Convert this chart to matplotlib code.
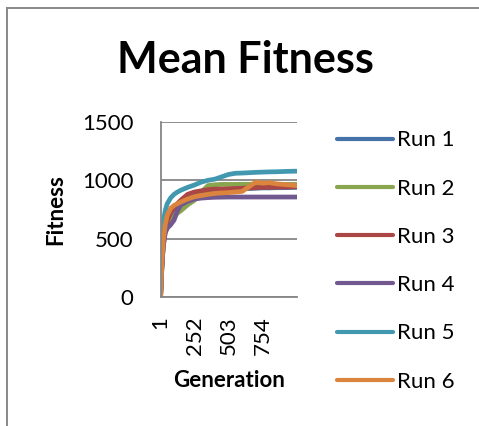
import matplotlib
matplotlib.use("Agg")
import matplotlib.pyplot as plt
from matplotlib.lines import Line2D

# ---------------- data ----------------
generations = [1, 10, 20, 35, 50, 75, 100, 125, 150, 200, 250, 300, 350, 400,
               450, 500, 550, 600, 650, 700, 750, 800, 850, 900, 950, 1000]
run1 = [0, 245, 440, 570, 640, 710, 760, 795, 825, 875, 895, 905, 915, 920,
        920, 922, 925, 927, 930, 932, 935, 935, 937, 937, 938, 940]
run2 = [0, 250, 430, 560, 620, 660, 690, 720, 740, 790, 830, 900, 955, 962,
        965, 965, 965, 966, 966, 966, 966, 966, 965, 965, 965, 965]
run3 = [0, 250, 450, 580, 650, 720, 770, 800, 830, 880, 900, 910, 920, 925,
        925, 928, 930, 932, 935, 937, 940, 940, 942, 942, 943, 945]
run4 = [0, 250, 430, 550, 590, 620, 660, 740, 790, 820, 840, 848, 852, 855,
        856, 857, 857, 857, 857, 857, 857, 857, 857, 857, 857, 857]
run5 = [0, 450, 640, 740, 800, 850, 880, 900, 915, 940, 960, 985, 1000, 1010,
        1030, 1050, 1060, 1062, 1065, 1068, 1070, 1072, 1073, 1075, 1077, 1078]
run6 = [0, 280, 470, 620, 700, 760, 785, 800, 815, 840, 860, 870, 880, 888,
        892, 895, 900, 905, 945, 985, 975, 980, 970, 965, 960, 955]
series = [("Run 1", run1), ("Run 2", run2), ("Run 3", run3),
          ("Run 4", run4), ("Run 5", run5), ("Run 6", run6)]
colors = ["#4572A7", "#89A54E", "#AA4643", "#71588F", "#4198AF", "#DB843D"]
xticks = [1, 252, 503, 754]
yticks = [0, 500, 1000, 1500]

W, H = 479, 426
plt.rcParams['font.family'] = ['Lato', 'DejaVu Sans']
fig = plt.figure(figsize=(W / 100, H / 100), dpi=100)

def fx(px):
    return px / W

def fy(py):
    return 1 - py / H

ax = fig.add_axes([fx(160.5), fy(297.3), fx(296.7) - fx(160.5), fy(121.8) - fy(297.3)])

for (name, vals), c in zip(series, colors):
    ax.plot(generations, vals, color=c, lw=3.4, label=name,
            solid_capstyle='round', solid_joinstyle='round')

ax.set_xlim(0.5, 1000.5)
ax.set_ylim(0, 1500)
ax.set_yticks(yticks)
ax.set_xticks(xticks)
ax.set_xticklabels([str(t) for t in xticks], rotation=90)
ax.tick_params(axis='both', length=0, labelsize=16, colors='black')
ax.tick_params(axis='y', pad=19.5)
ax.tick_params(axis='x', pad=13.5)
ax.grid(axis='y', color='#868686', lw=1.3)
ax.set_axisbelow(True)
for s in ['top', 'right']:
    ax.spines[s].set_visible(False)
for s in ['left', 'bottom']:
    ax.spines[s].set_color('#868686')
    ax.spines[s].set_linewidth(1.3)

fig.text(fx(245), fy(73), "Mean Fitness", ha='center', va='baseline',
         fontsize=31, fontweight='bold')
fig.text(fx(56), fy(210), "Fitness", ha='center', va='center', rotation=90,
         fontsize=16, fontweight='bold')
fig.text(fx(229), fy(387), "Generation", ha='center', va='baseline',
         fontsize=16, fontweight='bold')

leg = fig.legend(loc='upper left', bbox_to_anchor=(fx(337), fy(130.5)),
                 frameon=False, fontsize=16, handlelength=2.5,
                 handletextpad=0.18, labelspacing=1.27, borderaxespad=0,
                 borderpad=0)
for line in leg.get_lines():
    line.set_linewidth(3.0)
    line.set_solid_capstyle('round')

fig.add_artist(Line2D([fx(6.5), fx(6.5)], [0, fy(8)], transform=fig.transFigure,
                      color='#888888', lw=1.4))
fig.add_artist(Line2D([fx(6.5), 1.0], [fy(8), fy(8)], transform=fig.transFigure,
                      color='#888888', lw=1.4))

fig.savefig("out.png", dpi=100)
